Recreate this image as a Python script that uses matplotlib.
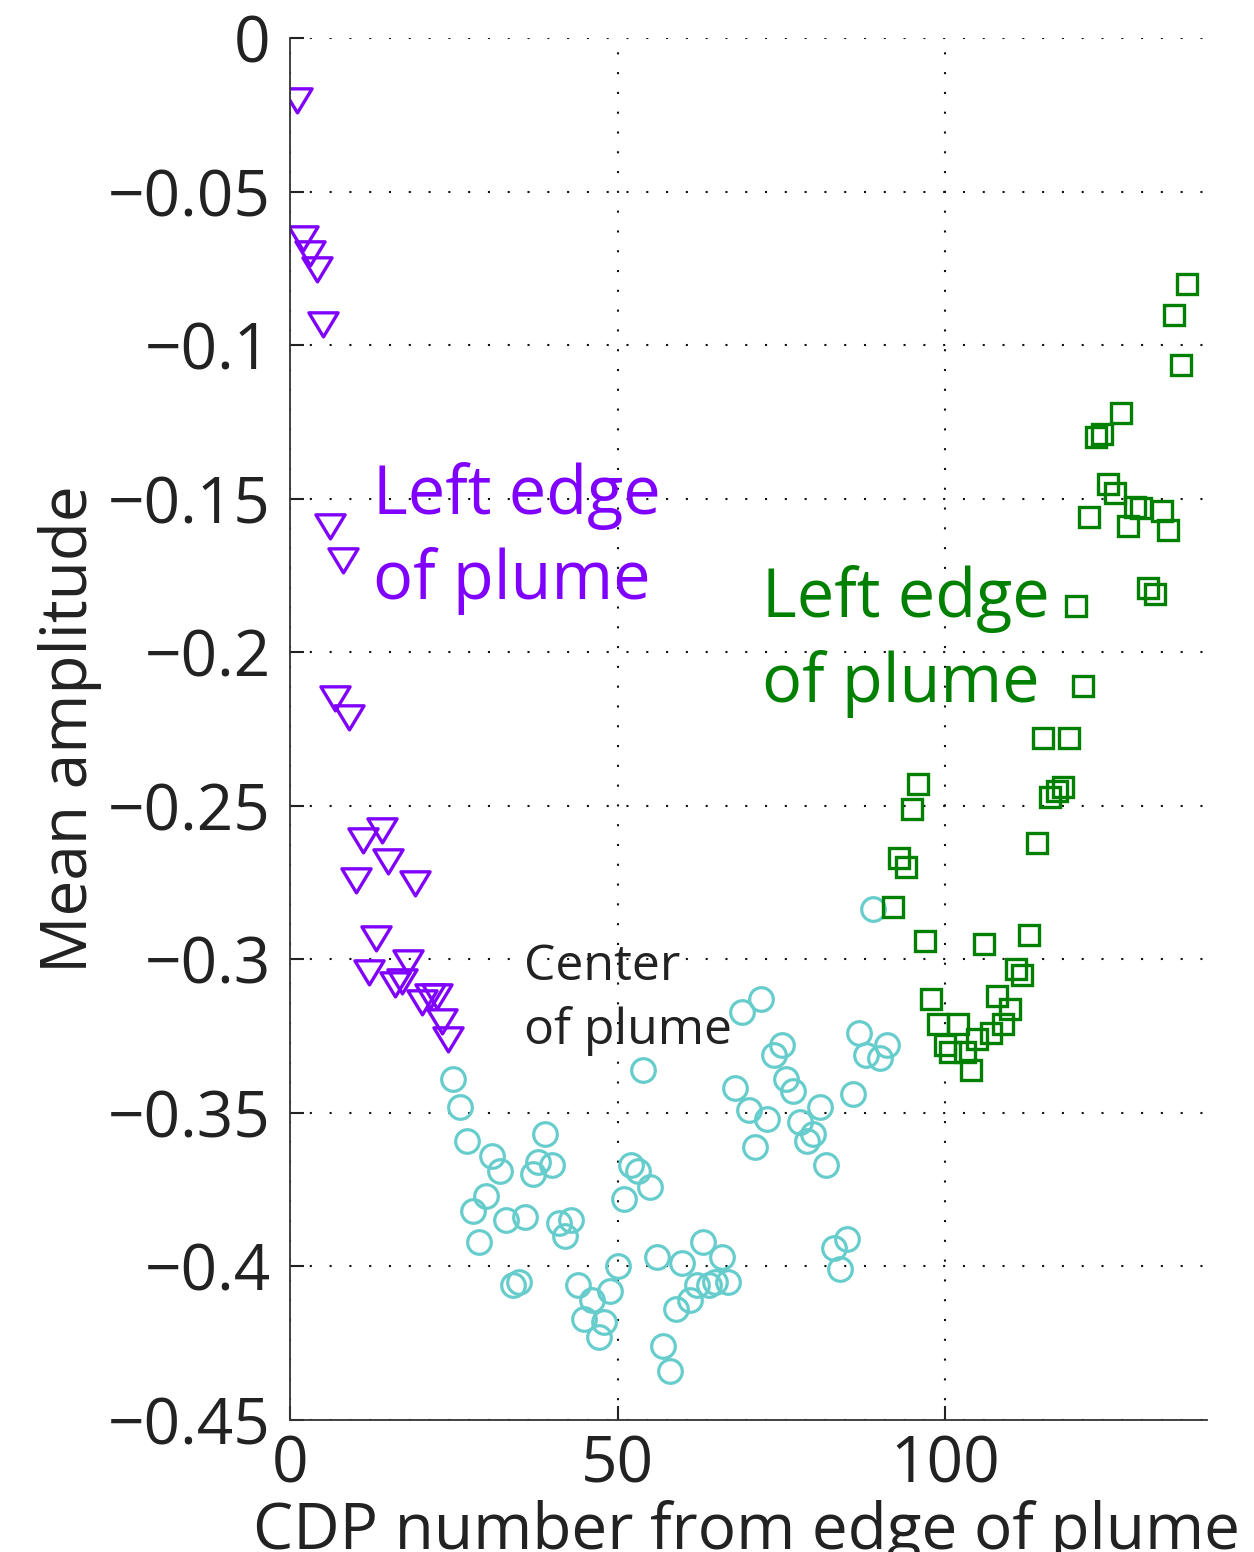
import matplotlib
matplotlib.use("Agg")
import matplotlib.pyplot as plt
from matplotlib.path import Path

plt.rcParams['font.family'] = ['Open Sans', 'DejaVu Sans']

# --- DATA: mean amplitude per CDP, grouped by part of the plume ---
left_cdp = [1.05, 2.0, 3.05, 4.1, 5.0, 6.1, 6.9, 8.1, 9.0, 10.1, 11.1, 12.1,
            13.1, 14.0, 15.0, 16.0, 17.1, 18.0, 19.1, 20.2, 21.4, 22.4, 23.2, 24.1]
left_amp = [-0.020, -0.065, -0.070, -0.075, -0.093, -0.159, -0.215, -0.170,
            -0.221, -0.274, -0.261, -0.304, -0.293, -0.258, -0.268, -0.308,
            -0.307, -0.301, -0.275, -0.314, -0.312, -0.312, -0.320, -0.326]

center_cdp = [24.9, 26.0, 27.0, 28.0, 28.9, 29.9, 30.9, 32.0, 33.0, 34.0, 35.0,
              35.9, 37.05, 37.9, 38.9, 40.0, 41.0, 42.0, 42.9, 43.9, 44.9, 46.1,
              47.1, 48.0, 48.9, 50.0, 51.0, 52.0, 53.2, 53.9, 55.0, 56.0, 57.0,
              58.0, 58.9, 59.8, 61.1, 62.1, 63.0, 63.9, 64.9, 65.9, 66.9, 67.9,
              69.0, 70.0, 71.0, 71.9, 72.8, 73.9, 75.1, 75.8, 76.8, 77.9, 78.9,
              79.9, 80.9, 81.9, 83.0, 84.0, 85.0, 85.9, 86.9, 87.9, 89.0, 90.1,
              91.2]
center_amp = [-0.339, -0.348, -0.359, -0.382, -0.392, -0.377, -0.364, -0.369,
              -0.385, -0.406, -0.405, -0.384, -0.370, -0.366, -0.357, -0.367,
              -0.386, -0.390, -0.385, -0.406, -0.417, -0.411, -0.423, -0.418,
              -0.408, -0.400, -0.378, -0.367, -0.369, -0.336, -0.374, -0.397,
              -0.426, -0.434, -0.414, -0.399, -0.411, -0.406, -0.392, -0.406,
              -0.405, -0.397, -0.405, -0.342, -0.317, -0.349, -0.361, -0.313,
              -0.352, -0.331, -0.328, -0.339, -0.343, -0.353, -0.359, -0.357,
              -0.348, -0.367, -0.394, -0.401, -0.391, -0.344, -0.324, -0.331,
              -0.2835, -0.332, -0.328]

right_cdp = [92.0, 93.0, 94.0, 94.9, 95.9, 96.9, 97.9, 99.0, 100.0, 100.8,
             102.0, 103.0, 103.9, 104.9, 105.9, 107.0, 107.9, 108.9, 109.9,
             110.9, 111.8, 112.9, 114.0, 114.9, 116.0, 117.05, 118.0, 119.0,
             120.0, 121.0, 122.0, 123.1, 123.9, 124.9, 126.0, 126.9, 128.0,
             129.0, 129.9, 131.0, 132.0, 133.1, 134.0, 135.0, 136.0, 137.0]
right_amp = [-0.283, -0.267, -0.270, -0.251, -0.243, -0.294, -0.313, -0.321,
             -0.328, -0.330, -0.321, -0.330, -0.336, -0.326, -0.295, -0.324,
             -0.312, -0.321, -0.316, -0.303, -0.305, -0.292, -0.262, -0.228,
             -0.247, -0.245, -0.244, -0.228, -0.185, -0.211, -0.156, -0.130,
             -0.129, -0.145, -0.148, -0.122, -0.159, -0.1525, -0.153, -0.179,
             -0.181, -0.154, -0.160, -0.090, -0.1065, -0.080]

x_ticks = [0, 50, 100]
y_ticks = [0, -0.05, -0.1, -0.15, -0.2, -0.25, -0.3, -0.35, -0.4, -0.45]
y_tick_labels = ['0', '\u22120.05', '\u22120.1', '\u22120.15', '\u22120.2',
                 '\u22120.25', '\u22120.3', '\u22120.35', '\u22120.4', '\u22120.45']

purple = '#8000ff'
cyan = '#66cccc'
green = '#008000'

# wide downward triangle (wider than tall)
tri_down = Path([(-1, 0.8), (1, 0.8), (0, -0.85), (-1, 0.8)],
                [Path.MOVETO, Path.LINETO, Path.LINETO, Path.CLOSEPOLY])

fig = plt.figure(figsize=(12.54, 15.52), dpi=100)
ax = fig.add_axes([0.2313, 0.0851, 0.7312, 0.8902])

ax.plot(left_cdp, left_amp, linestyle='none', marker=tri_down, markersize=21,
        markerfacecolor='none', markeredgecolor=purple, markeredgewidth=2.4)
ax.plot(center_cdp, center_amp, linestyle='none', marker='o', markersize=17,
        markerfacecolor='none', markeredgecolor=cyan, markeredgewidth=2.3)
ax.plot(right_cdp, right_amp, linestyle='none', marker='s', markersize=14.5,
        markerfacecolor='none', markeredgecolor=green, markeredgewidth=2.4)

ax.set_xlim(0, 140)
ax.set_ylim(-0.45, 0)
ax.set_xticks(x_ticks)
ax.set_yticks(y_ticks)
ax.set_yticklabels(y_tick_labels)

ax.grid(True, color='#111111', linewidth=1.5, linestyle=(0, (1, 8.5)))
ax.set_axisbelow(True)
for s in ['top', 'right']:
    ax.spines[s].set_visible(False)
for s in ['left', 'bottom']:
    ax.spines[s].set_color('#333333')
    ax.spines[s].set_linewidth(1.3)

ax.tick_params(axis='both', direction='in', length=10, width=1.5,
               labelsize=46, colors='#222222')
ax.tick_params(axis='y', pad=14)
ax.tick_params(axis='x', pad=10)

ax.set_xlabel('CDP number from edge of plume', fontsize=46, color='#222222')
ax.set_ylabel('Mean amplitude', fontsize=46, color='#222222')
ax.xaxis.set_label_coords(0.498, -0.058)
ax.yaxis.set_label_coords(-0.205, 0.5)

ax.text(12.7, -0.138, 'Left edge\nof plume', color=purple, fontsize=48,
        ha='left', va='top', linespacing=1.33)
ax.text(72.1, -0.1715, 'Left edge\nof plume', color=green, fontsize=48,
        ha='left', va='top', linespacing=1.33)
ax.text(35.7, -0.2946, 'Center\nof plume', color='#222222', fontsize=36,
        ha='left', va='top', linespacing=1.36)

plt.savefig('out.png', dpi=100)
